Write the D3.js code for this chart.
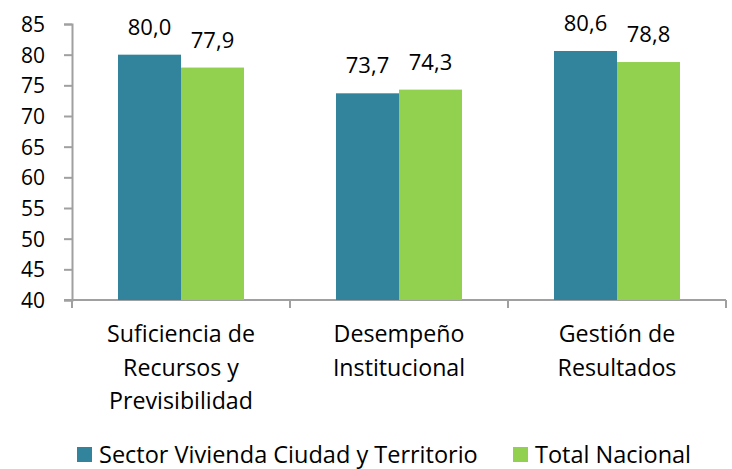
<!DOCTYPE html>
<html>
<head>
<meta charset="utf-8">
<script src="https://cdn.jsdelivr.net/npm/d3@7"></script>
<style>
  body { margin: 0; background: #fff; }
  text { font-family: "Open Sans", sans-serif; fill: #000; }
</style>
</head>
<body>
<div id="chart"></div>
<script>
var categories = [["Suficiencia de", "Recursos y", "Previsibilidad"], ["Desempeño", "Institucional"], ["Gestión de", "Resultados"]];
var seriesNames = ["Sector Vivienda Ciudad y Territorio", "Total Nacional"];
var sectorValues = [80.0, 73.7, 80.6];
var nacionalValues = [77.9, 74.3, 78.8];
var yTicks = [40, 45, 50, 55, 60, 65, 70, 75, 80, 85];
var colors = ["#31849b", "#92d050"];

var width = 732, height = 469;
var svg = d3.select("#chart").append("svg")
  .attr("width", width)
  .attr("height", height);

var x = d3.scaleBand()
  .domain(d3.range(categories.length))
  .range([72, 726])
  .paddingInner(0)
  .paddingOuter(0);

var inner = d3.scaleBand()
  .domain([0, 1])
  .range([46, x.bandwidth() - 46]);

var y = d3.scaleLinear()
  .domain([40, 85])
  .range([300, 24]);

// y axis
var yAxis = svg.append("g")
  .attr("transform", "translate(72,0)")
  .call(d3.axisLeft(y).tickValues(yTicks).tickSize(8).tickPadding(19));
yAxis.select(".domain").attr("stroke", "#a0a0a0").attr("stroke-width", 2);
yAxis.selectAll(".tick line").attr("stroke", "#a0a0a0").attr("stroke-width", 2);
yAxis.selectAll(".tick text")
  .style("font-size", "21px")
  .attr("dy", "0.36em");

// x axis
svg.append("line")
  .attr("x1", 64).attr("x2", 726)
  .attr("y1", y(40)).attr("y2", y(40))
  .attr("stroke", "#a0a0a0").attr("stroke-width", 2);
svg.selectAll(".xtick")
  .data(d3.range(categories.length + 1))
  .enter().append("line")
  .attr("x1", function(d) { return d < categories.length ? x(d) : x(d - 1) + x.bandwidth(); })
  .attr("x2", function(d) { return d < categories.length ? x(d) : x(d - 1) + x.bandwidth(); })
  .attr("y1", y(40)).attr("y2", y(40) + 8)
  .attr("stroke", "#a0a0a0").attr("stroke-width", 2);

var series = [sectorValues, nacionalValues];

series.forEach(function(vals, s) {
  svg.selectAll(".bar" + s)
    .data(vals)
    .enter().append("rect")
    .attr("x", function(d, i) { return x(i) + inner(s); })
    .attr("width", inner.bandwidth())
    .attr("y", function(d) { return y(d); })
    .attr("height", function(d) { return y(40) - y(d); })
    .attr("fill", colors[s]);

  svg.selectAll(".lbl" + s)
    .data(vals)
    .enter().append("text")
    .attr("x", function(d, i) { return x(i) + inner(s) + inner.bandwidth() / 2; })
    .attr("y", function(d) { return y(d) - 20; })
    .attr("text-anchor", "middle")
    .style("font-size", "22px")
    .text(function(d) { return d.toFixed(1).replace(".", ","); });
});

// category labels
categories.forEach(function(lines, i) {
  var t = svg.append("text")
    .attr("text-anchor", "middle")
    .style("font-size", "23.2px");
  lines.forEach(function(line, j) {
    t.append("tspan")
      .attr("x", x(i) + x.bandwidth() / 2)
      .attr("y", 342 + j * 33.5)
      .text(line);
  });
});

// legend
var legendX = [77, 513];
seriesNames.forEach(function(name, s) {
  svg.append("rect")
    .attr("x", legendX[s]).attr("y", 447)
    .attr("width", 15).attr("height", 15)
    .attr("fill", colors[s]);
  svg.append("text")
    .attr("x", legendX[s] + 22).attr("y", 463)
    .style("font-size", "23.5px")
    .text(name);
});
</script>
</body>
</html>
